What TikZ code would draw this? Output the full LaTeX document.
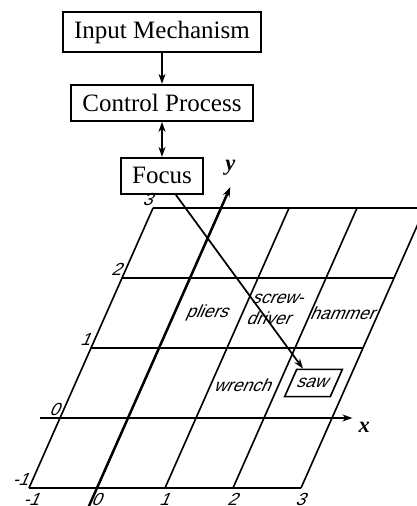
\documentclass[tikz,border=0pt]{standalone}
\usepackage{fontspec}
\setmainfont{Liberation Serif}
\setsansfont{Liberation Sans}
\usetikzlibrary{arrows.meta, positioning}

\begin{document}
\begin{tikzpicture}[x=0.4pt, y=0.4pt, >={Stealth[length=4pt, width=2.8pt]},
  block/.style={draw, line width=0.7pt, inner xsep=4.5pt, minimum height=14.5pt, font=\fontsize{10}{12}\selectfont},
  tool/.style={font=\sffamily\fontsize{7}{8.4}\selectfont, align=center, inner sep=0pt, transform shape},
  num/.style={font=\sffamily\fontsize{7}{8}\selectfont, inner sep=0.6pt, transform shape},
  axlabel/.style={font=\bfseries\itshape\fontsize{9}{10}\selectfont, inner sep=1pt},
  gridline/.style={line width=0.65pt},
  axis/.style={line width=1pt, ->}]
  \useasboundingbox (0,0) rectangle (417,506);
  \clip (0,0) rectangle (417,506);

  % Bloecke
  \node[block, minimum height=16pt] (input) at (162,474) {Input Mechanism};
  \node[block, below=12.4pt of input] (control) {Control Process};
  \node[block, below=14pt of control] (focus) {Focus};
  \draw[->, line width=0.7pt] (input) -- (control);
  \draw[<->, line width=0.7pt] (control) -- (focus);

  % schraeges Gitter
  \begin{scope}[shift={(128,88)}, xslant=0.443, x=27.2pt, y=28pt]
    \foreach \k in {-1,...,3} {
      \draw[gridline] (-1,\k) -- (3,\k);
      \draw[gridline] (\k,-1) -- (\k,3);
      \node[num, anchor=south east] (ynum\k) at (-1,\k) {\k};
      \node[num, anchor=north west, yshift=-1.5pt] (xnum\k) at (\k,-1) {\k};
    }
    \draw[axis] (-1.3,0) -- (3.3,0) node[axlabel, below right, xshift=1pt] (xlab) {x};
    \draw[axis] (0,-1.4) -- (0,3.3) node[axlabel, above, yshift=3pt] (ylab) {y};

    % Werkzeuge
    \node[tool] (pliers) at (0.5,1.5) {pliers};
    \node[tool] (screwdriver) at (1.45,1.55) {screw-\\driver};
    \node[tool] (hammer) at (2.5,1.5) {hammer};
    \node[tool] (wrench) at (1.5,0.47) {wrench};
    \node[tool, draw, line width=0.65pt, inner xsep=2.9pt, minimum height=10.9pt] (saw) at (2.5,0.5) {saw};
  \end{scope}

  \draw[->, line width=0.7pt] (focus) -- (saw);
\end{tikzpicture}
\end{document}
